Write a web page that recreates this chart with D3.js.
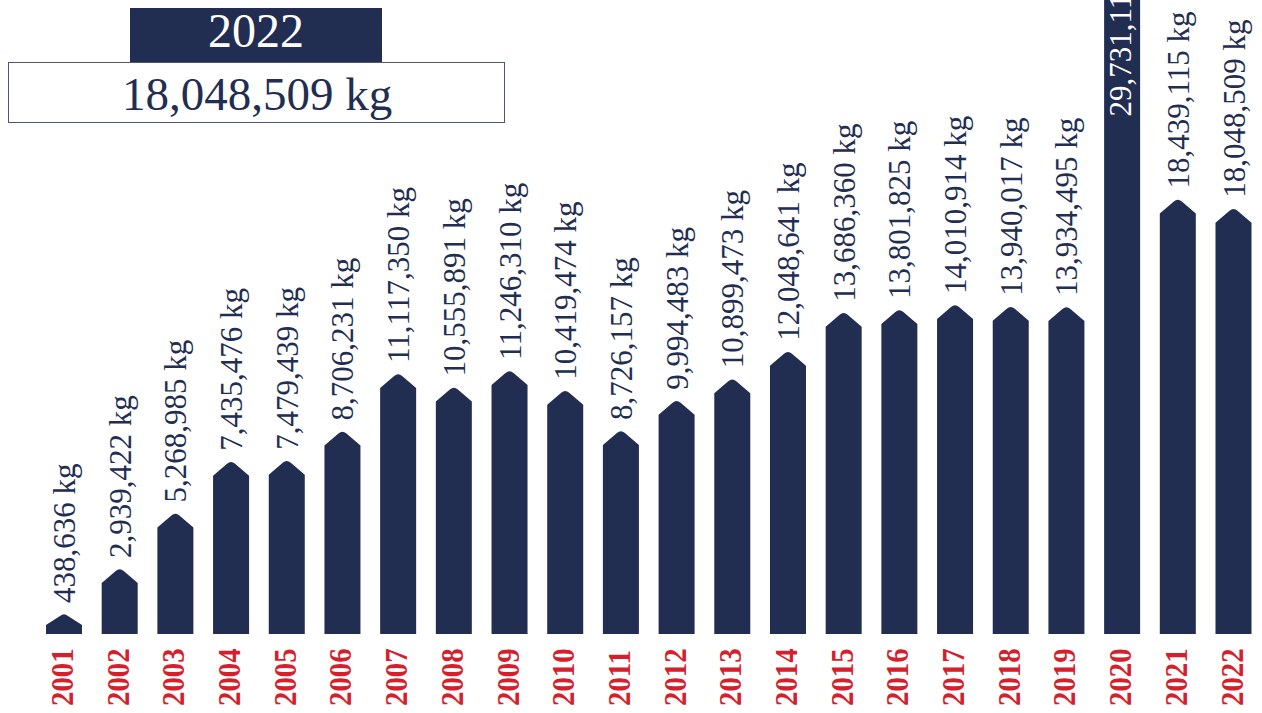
<meta charset="utf-8">
<style>
    body{ margin:0; background:#fff; }
    svg{ display:block; }
    text{ font-family: "Liberation Serif", "Times New Roman", serif; }
</style>
<script src="https://d3js.org/d3.v7.min.js"></script>
<body>
<div id="chart"></div>
<script>
    // data
    const years = ["2001","2002","2003","2004","2005","2006","2007","2008","2009","2010","2011",
                   "2012","2013","2014","2015","2016","2017","2018","2019","2020","2021","2022"];
    const kilos = [438636, 2939422, 5268985, 7435476, 7479439, 8706231, 11117350, 10555891, 11246310,
                   10419474, 8726157, 9994483, 10899473, 12048641, 13686360, 13801825, 14010914,
                   13940017, 13934495, 29731119, 18439115, 18048509];
    const headYear = "2022";
    const headValue = 18048509;

    const W = 1262, H = 713;
    const navy = "#222d52", red = "#d51f2d";
    const base = 634;
    const fmt = d3.format(",");

    const svg = d3.select("#chart").append("svg")
        .attr("width", W).attr("height", H);

    const x = d3.scalePoint().domain(years).range([64, 1233.5]);
    const y = d3.scaleLinear().domain([0, 30000000]).range([638, -77]);
    const bw = 36;

    const data = years.map((yr, i) => ({year: yr, value: kilos[i]}));

    function peakOf(d){ return Math.min(y(d.value), base - 21); }

    function barPath(d){
        let x0 = x(d.year) - bw/2, x1 = x(d.year) + bw/2, cx = x(d.year);
        let peak = peakOf(d);
        let cap = Math.min(15, (base - peak) - 9);
        let sh = peak + cap;
        return "M" + x0 + "," + base + "V" + sh +
               "L" + (cx - 4) + "," + (peak + 3) +
               "Q" + cx + "," + (peak - 0.5) + " " + (cx + 4) + "," + (peak + 3) +
               "L" + x1 + "," + sh + "V" + base + "Z";
    }

    svg.append("g").selectAll("path")
        .data(data).join("path")
        .attr("d", barPath)
        .attr("fill", navy);

    // value labels
    const labels = svg.append("g").selectAll("text")
        .data(data).join("text")
        .attr("font-size", 31)
        .text(d => fmt(d.value) + " kg");

    labels.each(function(d){
        let t = d3.select(this);
        let len = this.getComputedTextLength();
        let start = peakOf(d) - 10;
        if (start - len < 0) {
            // no room above: put it inside the bar, at its top
            t.attr("fill", "#fff")
             .attr("text-anchor", "end")
             .attr("transform", "translate(" + (x(d.year) + 9) + "," + (y(d.value) + 10) + ") rotate(-90)");
        } else {
            t.attr("fill", navy)
             .attr("transform", "translate(" + (x(d.year) + 11) + "," + start + ") rotate(-90)");
        }
    });

    // year labels
    svg.append("g").selectAll("text")
        .data(data).join("text")
        .attr("transform", d => "translate(" + (x(d.year) + 9) + ",706) rotate(-90) scale(0.9,1)")
        .attr("font-weight", "bold")
        .attr("font-size", 32)
        .attr("fill", red)
        .text(d => d.year);

    // header boxes
    svg.append("rect")
        .attr("x", 130).attr("y", 8).attr("width", 252).attr("height", 54)
        .attr("fill", navy);
    svg.append("text")
        .attr("x", 256).attr("y", 47)
        .attr("text-anchor", "middle")
        .attr("font-size", 48)
        .attr("fill", "#fff")
        .text(headYear);

    svg.append("rect")
        .attr("x", 8.5).attr("y", 62.5).attr("width", 496).attr("height", 60)
        .attr("fill", "#fff")
        .attr("stroke", "#4d5479").attr("stroke-width", 1);
    svg.append("text")
        .attr("x", 257).attr("y", 110)
        .attr("text-anchor", "middle")
        .attr("font-size", 47)
        .attr("fill", navy)
        .text(fmt(headValue) + " kg");
</script>
</body>
